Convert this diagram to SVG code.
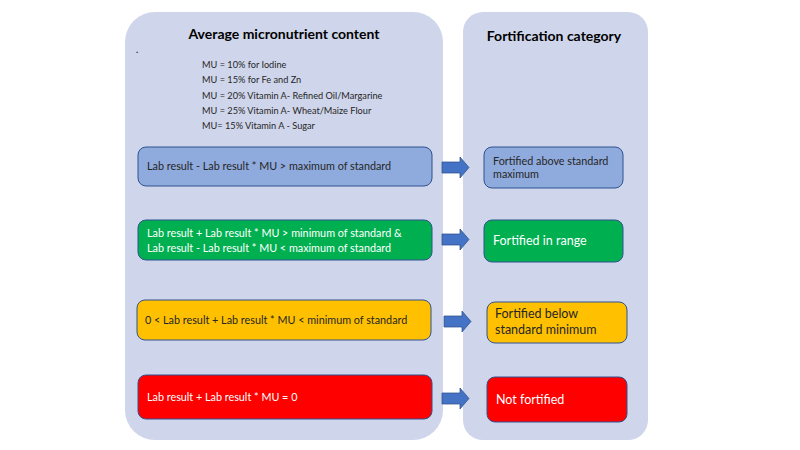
<svg xmlns="http://www.w3.org/2000/svg" width="800" height="450" viewBox="0 0 800 450">
<defs>
<style>
text{font-family:Lato,"Liberation Sans",sans-serif;}
.panel{fill:#CFD5EA;}
.head{font-weight:bold;font-size:14px;fill:#000;text-anchor:middle;}
.mu{font-size:9.2px;fill:#262626;}
.box{stroke:#2F528F;stroke-width:1;}
.blue{fill:#8FAADC;}
.green{fill:#00B050;}
.yellow{fill:#FFC000;}
.red{fill:#FF0000;}
.t{font-size:10.8px;}
.dark{fill:#262626;}
.light{fill:#FFFFFF;}
.big{font-size:12.5px;}
.arrow{fill:#4472C4;stroke:#2F528F;stroke-width:0.75;}
</style>
</defs>
<rect width="800" height="450" fill="#FFFFFF"/>
<g id="panel-left">
<rect class="panel" x="125" y="12" width="318" height="428" rx="30" ry="30"/>
<text class="head" x="284" y="39">Average micronutrient content</text>
<text class="mu" x="136" y="53" font-weight="bold">.</text>
<text class="mu" x="202" y="68">MU = 10% for Iodine</text>
<text class="mu" x="202" y="83">MU = 15% for Fe and Zn</text>
<text class="mu" x="202" y="99">MU = 20% Vitamin A- Refined Oil/Margarine</text>
<text class="mu" x="202" y="114">MU = 25% Vitamin A- Wheat/Maize Flour</text>
<text class="mu" x="202" y="129">MU= 15% Vitamin A - Sugar</text>
</g>
<g id="panel-right">
<rect class="panel" x="463" y="12" width="185" height="428" rx="20" ry="20"/>
<text class="head" x="554" y="41">Fortification category</text>
</g>
<g id="cond-above">
<rect class="box blue" x="138" y="147" width="294" height="39" rx="8" ry="8"/>
<text class="t dark" x="147" y="170">Lab result - Lab result * MU &gt; maximum of standard</text>
</g>
<g id="cond-range">
<rect class="box green" x="138" y="220" width="294" height="40" rx="8" ry="8"/>
<text class="t light" x="147" y="237">Lab result + Lab result * MU &gt; minimum of standard &amp;</text>
<text class="t light" x="147" y="252">Lab result - Lab result * MU &lt; maximum of standard</text>
</g>
<g id="cond-below">
<rect class="box yellow" x="137" y="300" width="294" height="40" rx="8" ry="8"/>
<text class="t dark" x="145" y="324">0 &lt; Lab result + Lab result * MU &lt; minimum of standard</text>
</g>
<g id="cond-none">
<rect class="box red" x="138" y="375" width="294" height="44" rx="8" ry="8"/>
<text class="t light" x="147" y="401">Lab result + Lab result * MU = 0</text>
</g>
<g id="cat-above">
<rect class="box blue" x="484" y="147" width="139" height="41" rx="8" ry="8"/>
<text class="t dark" x="493" y="165">Fortified above standard</text>
<text class="t dark" x="493" y="178">maximum</text>
</g>
<g id="cat-range">
<rect class="box green" x="484" y="220" width="139" height="42" rx="8" ry="8"/>
<text class="big light" x="493" y="245">Fortified in range</text>
</g>
<g id="cat-below">
<rect class="box yellow" x="487" y="302" width="140" height="41" rx="8" ry="8"/>
<text class="big dark" x="495" y="318">Fortified below</text>
<text class="big dark" x="495" y="334">standard minimum</text>
</g>
<g id="cat-none">
<rect class="box red" x="487" y="377" width="140" height="45" rx="8" ry="8"/>
<text class="big light" x="496" y="404">Not fortified</text>
</g>
<g id="connectors">
<path class="arrow" d="M442,162 H460 V157 L469,167.5 L460,178 V173 H442 Z"/>
<path class="arrow" d="M442,234 H460 V229 L469,239.5 L460,250 V245 H442 Z"/>
<path class="arrow" d="M444,316 H462 V311 L471,321.5 L462,332 V327 H444 Z"/>
<path class="arrow" d="M442,393 H460 V388 L469,398.5 L460,409 V404 H442 Z"/>
</g>
</svg>
